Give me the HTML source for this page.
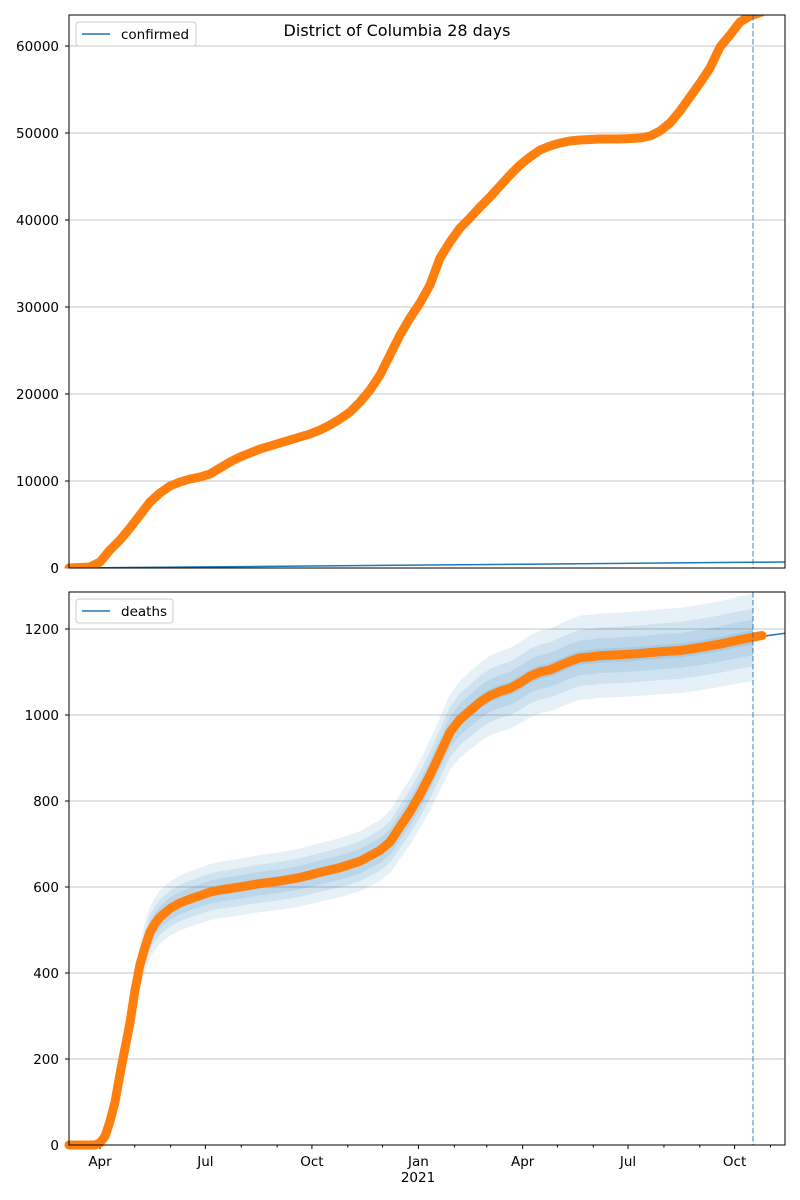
<!DOCTYPE html>
<html><head><meta charset="utf-8"><style>
body{margin:0;background:#fff;}
svg{display:block;font-family:"DejaVu Sans","Liberation Sans",sans-serif;}
</style></head><body>
<svg id="s" width="800" height="1200" xmlns="http://www.w3.org/2000/svg"></svg>
<script>
const S=document.getElementById('s');let h='';
const L=69,R=785;
const X0=100,PD=1.158;
function dx(y,m){const d=(Date.UTC(y,m,1)-Date.UTC(2020,3,1))/864e5;return X0+d*PD;}
const axes=[{t:15,b:568},{t:592,b:1145}];
for(let v=0;v<=60000;v+=10000){const y=568-v/10000*87;h+=`<line x1="${L}" x2="${R}" y1="${y}" y2="${y}" stroke="#b0b0b0" stroke-width="0.8"/><line x1="${L-4}" x2="${L}" y1="${y}" y2="${y}" stroke="#000"/><text x="${L-10}" y="${y+5}" font-size="13.5" text-anchor="end">${v}</text>`;}
for(let v=0;v<=1200;v+=200){const y=1145-v*0.43;h+=`<line x1="${L}" x2="${R}" y1="${y}" y2="${y}" stroke="#b0b0b0" stroke-width="0.8"/><line x1="${L-4}" x2="${L}" y1="${y}" y2="${y}" stroke="#000"/><text x="${L-10}" y="${y+5}" font-size="13.5" text-anchor="end">${v}</text>`;}
const labs={3:'Apr',6:'Jul',9:'Oct',0:'Jan'};
for(let y=2020;y<=2021;y++)for(let m=0;m<12;m++){const x=dx(y,m);if(x<L-0.5||x>R+0.5)continue;
 const maj=labs[m]!==undefined;for(const a of axes){h+=`<line x1="${x}" x2="${x}" y1="${a.b}" y2="${a.b+(maj?4:2.5)}" stroke="#000"/>`;}
 if(maj)h+=`<text x="${x}" y="${1145+21}" font-size="13.5" text-anchor="middle">${labs[m]}</text>`;}
h+=`<text x="418" y="1182" font-size="13.5" text-anchor="middle">2021</text>`;
const cp=[[69,568],[90,567],[100,562],[110,550],[120,540],[130,528],[140,515],[150,502],[160,493],[170,486],[180,482],[190,479],[200,477],[210,474],[220,468],[230,462],[240,457],[250,453],[260,449],[270,446],[280,443],[290,440],[300,437],[310,434],[320,430],[330,425],[340,419],[350,412],[360,402],[370,390],[380,375],[390,355],[400,335],[410,318],[420,303],[430,285],[440,258],[450,242],[460,228],[470,218],[480,207],[490,197],[500,186],[510,175],[520,165],[530,157],[540,150],[550,146],[560,143],[570,141],[580,140],[600,139],[620,139],[640,138],[650,136],[660,131],[670,123],[680,111],[690,97],[700,83],[710,68],[720,47],[730,35],[740,22],[750,16],[762,12]];
h+=`<line x1="69" y1="568" x2="785" y2="562" stroke="#1f77b4" stroke-width="1.5"/>`;
h+=`<polyline points="${cp.map(p=>p.join(',')).join(' ')}" fill="none" stroke="#ff7f0e" stroke-width="9" stroke-linejoin="round" stroke-linecap="round"/>`;
const dp=[[69,0],[95,0],[100,5],[105,20],[110,55],[115,100],[120,165],[125,225],[130,285],[135,360],[140,420],[145,460],[150,495],[155,515],[160,530],[170,550],[180,563],[190,572],[200,580],[210,588],[220,593],[240,600],[260,608],[280,614],[300,622],[320,634],[340,645],[360,660],[380,685],[390,705],[400,740],[410,775],[420,815],[430,860],[440,910],[450,960],[460,990],[470,1010],[480,1030],[490,1045],[500,1055],[510,1062],[520,1075],[530,1090],[540,1100],[550,1105],[560,1115],[570,1125],[580,1133],[590,1135],[600,1138],[620,1140],[640,1143],[660,1147],[680,1150],[700,1157],[720,1165],[740,1175],[753,1180]];
const Y=v=>1145-v*0.43;
for(const [a,c] of [[0.06,30],[0.04,20],[0.025,12],[0.01,5]]){
 const w=v=>(a*v+c)*Math.min(1,v/450);
 const up=dp.map(p=>[p[0],Y(p[1]+w(p[1]))]);const lo=dp.map(p=>[p[0],Y(p[1]-w(p[1]))]).reverse();
 h+=`<polygon points="${up.concat(lo).map(p=>p.join(',')).join(' ')}" fill="#1f77b4" fill-opacity="0.11"/>`;}
h+=`<polyline points="${dp.map(p=>p[0]+','+Y(p[1])).join(' ')} 785,${Y(1190)}" fill="none" stroke="#1f77b4" stroke-width="1.5"/>`;
const dd=dp.slice(0,-1).concat([[762,1185]]);
h+=`<polyline points="${dd.map(p=>p[0]+','+Y(p[1])).join(' ')}" fill="none" stroke="#ff7f0e" stroke-width="9" stroke-linejoin="round" stroke-linecap="round"/>`;
for(const a of axes)h+=`<line x1="753" x2="753" y1="${a.t}" y2="${a.b}" stroke="#1f77b4" stroke-opacity="0.6" stroke-width="1.5" stroke-dasharray="5.5,2.5"/>`;
h+=`<rect x="0" y="0" width="800" height="15" fill="#fff"/><rect x="0" y="568.5" width="800" height="23" fill="#fff"/>`;
h+=`<text x="${L-10}" y="573" font-size="13.5" text-anchor="end">0</text>`;
for(const a of axes)h+=`<rect x="${L}" y="${a.t}" width="${R-L}" height="${a.b-a.t}" fill="none" stroke="#000" stroke-width="1"/>`;
h+=`<rect x="76" y="22" width="120" height="24" rx="3" fill="#fff" fill-opacity="0.8" stroke="#ccc"/><line x1="82" x2="110" y1="34" y2="34" stroke="#1f77b4" stroke-width="1.5"/><text x="121" y="39" font-size="13.5">confirmed</text>`;
h+=`<rect x="76" y="599" width="97" height="24" rx="3" fill="#fff" fill-opacity="0.8" stroke="#ccc"/><line x1="82" x2="110" y1="611" y2="611" stroke="#1f77b4" stroke-width="1.5"/><text x="121" y="616" font-size="13.5">deaths</text>`;
h+=`<text x="397" y="36" font-size="16" text-anchor="middle">District of Columbia 28 days</text>`;
S.innerHTML=h;
</script>
</body></html>
